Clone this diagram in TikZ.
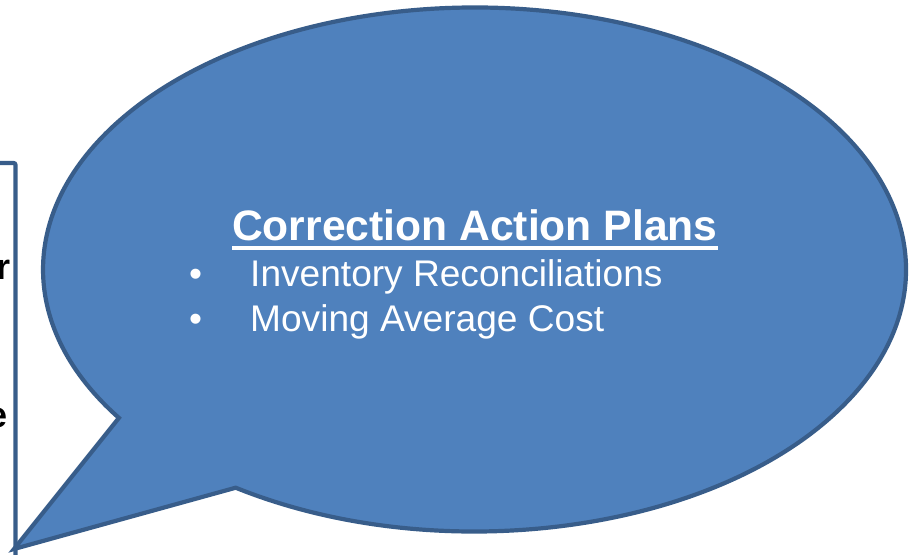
\documentclass[tikz,border=0pt]{standalone}
\usepackage{fontspec}
\setmainfont{Liberation Sans}
\usetikzlibrary{calc}
\definecolor{bubblefill}{HTML}{4F81BD}
\definecolor{bubbleline}{HTML}{385D8A}
\tikzset{
  shapeline/.style={draw=bubbleline, line width=4.2pt, line join=miter},
  bubbletext/.style={text=white, inner sep=0pt, font=\fontsize{37.1}{44}\selectfont},
  boxtext/.style={text=black, inner sep=0pt, font=\fontsize{36}{42}\selectfont\bfseries}
}
\begin{document}
\begin{tikzpicture}[x=1pt,y=1pt]
\useasboundingbox (0,0) rectangle (909,554);
% left box (partly outside the picture)
\draw[shapeline, rounded corners=2pt] (-30,391) rectangle (15.5,-30);
\node[boxtext, anchor=base east] (r) at (10.5,274) {r};
\node[boxtext, anchor=base east] (e) at (7.5,126) {e};
% speech bubble
\coordinate (ctr) at (474.5,284.5);
\coordinate (tip) at (14,5);
\coordinate (ja) at ($(ctr)+(214.5:431.5pt and 262pt)$);
\coordinate (jb) at ($(ctr)+(236.4:431.5pt and 262pt)$);
\draw[shapeline, fill=bubblefill] (ja) -- (tip) -- (jb)
  arc[start angle=236.4, end angle=574.5, x radius=431.5pt, y radius=262pt] -- cycle;
% texts
\node[bubbletext, font=\fontsize{42.6}{50}\selectfont\bfseries, anchor=base west] (title) at (232,313.5) {Correction Action Plans};
\draw[white, line width=3.6pt] ([yshift=-7.5pt]title.base west) -- ([yshift=-7.5pt]title.base east);
\node[bubbletext, anchor=base west] (i1) at (250,267) {Inventory Reconciliations};
\node[bubbletext, anchor=base west] (i2) at (250,222) {Moving Average Cost};
\node[bubbletext, anchor=base] (b1) at (195.7,267) {•};
\node[bubbletext, anchor=base] (b2) at (195.7,222) {•};
\end{tikzpicture}
\end{document}
